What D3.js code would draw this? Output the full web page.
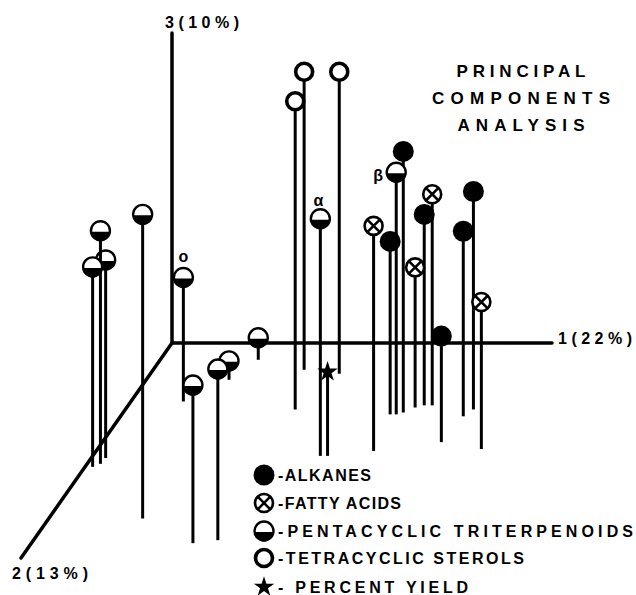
<!DOCTYPE html>
<html>
<head>
<meta charset="utf-8">
<script src="https://cdn.jsdelivr.net/npm/d3@7"></script>
<style>
  body { margin: 0; background: #fff; }
  text { font-family: "Liberation Sans", Arial, sans-serif; font-weight: bold; fill: #000; }
</style>
</head>
<body>
<div id="chart"></div>
<script>
// scores on the three principal components: [pc1, pc2, pc3]
const alkanes = [[7.06, 3.32, 5.58], [7.37, 3.23, 8.42], [7.79, 2.90, 6.16],
                 [8.92, 4.61, 3.42], [9.02, 3.41, 5.97], [9.16, 3.09, 7.03]];
const fattyAcids = [[7.30, 5.02, 7.26], [7.59, 3.00, 4.52], [8.00, 2.90, 6.81], [10.1, 4.93, 4.74]];
const triterpenoids = [[0.35, 5.62, 7.52], [0.20, 5.76, 6.45], [0.38, 5.35, 6.39], [2.47, 8.16, 9.81],
                       [1.38, 2.72, 4.00], [4.25, 9.31, 5.10], [4.85, 9.17, 5.52], [2.18, 1.71, 0.61],
                       [2.58, 0.78, 0.71], [5.99, 5.25, 7.65], [7.22, 3.32, 7.81]];
const sterols = [[3.97, 1.24, 9.61], [4.97, 1.43, 9.74], [4.47, 3.09, 9.94]];
const percentYield = [[6.18, 5.25, 2.71]];

// labelled triterpenoids (index into triterpenoids)
const pointLabels = [{ i: 4, text: "o", dx: 0, dy: -20 },
                     { i: 9, text: "α", dx: -2, dy: -18 },
                     { i: 10, text: "β", dx: -18, dy: 4 }];

const axisNames = ["1(22%)", "2(13%)", "3(10%)"];
const legendNames = ["-ALKANES", "-FATTY ACIDS", "-PENTACYCLIC TRITERPENOIDS", "-TETRACYCLIC STEROLS", "- PERCENT YIELD"];
const titleLines = ["PRINCIPAL", "COMPONENTS", "ANALYSIS"];

const width = 636, height = 595;
const svg = d3.select("#chart").append("svg").attr("width", width).attr("height", height);

// oblique projection: axis 1 to the right, axis 2 toward the viewer (down-left), axis 3 up
const origin = [172, 343];
const dir2 = [-151, 215];
const s1 = d3.scaleLinear().domain([0, 10]).range([0, 380]);
const s2 = d3.scaleLinear().domain([0, 10]).range([0, 1]);
const s3 = d3.scaleLinear().domain([0, 10]).range([0, 310]);

const project = ([a, b, c]) => [
  origin[0] + s1(a) + s2(b) * dir2[0],
  origin[1] + s2(b) * dir2[1] - s3(c)
];

// axes
const axisEnds = [[10, 0, 0], [0, 10, 0], [0, 0, 10]];
svg.append("g").selectAll("line").data(axisEnds).join("line")
  .attr("x1", origin[0]).attr("y1", origin[1])
  .attr("x2", (d) => project(d)[0]).attr("y2", (d) => project(d)[1])
  .attr("stroke", "#000").attr("stroke-width", 3.5).attr("stroke-linecap", "round");

const axisLabelPos = [{ x: 558, y: 344, len: 74 }, { x: 12, y: 579, len: 76 }, { x: 165, y: 28, len: 74 }];
svg.append("g").selectAll("text").data(axisNames).join("text")
  .attr("x", (d, i) => axisLabelPos[i].x).attr("y", (d, i) => axisLabelPos[i].y)
  .attr("font-size", 16)
  .attr("textLength", (d, i) => axisLabelPos[i].len).attr("lengthAdjust", "spacing")
  .text((d) => d);

// title
svg.append("g").selectAll("text").data(titleLines).join("text")
  .attr("x", 521).attr("y", (d, i) => 77 + i * 27)
  .attr("text-anchor", "middle").attr("font-size", 17)
  .attr("textLength", (d, i) => [129, 178, 127][i]).attr("lengthAdjust", "spacing")
  .text((d) => d);

// markers
function drawMarker(g, type, r) {
  if (type === "alkane") {
    g.append("circle").attr("r", r + 0.5).attr("fill", "#000");
  } else if (type === "fatty") {
    g.append("circle").attr("r", r - 1).attr("fill", "#fff").attr("stroke", "#000").attr("stroke-width", 2.6);
    const k = (r - 1) * 0.7;
    g.append("path").attr("d", `M${-k},${-k}L${k},${k}M${-k},${k}L${k},${-k}`)
      .attr("stroke", "#000").attr("stroke-width", 2.6);
  } else if (type === "penta") {
    g.append("circle").attr("r", r - 0.5).attr("fill", "#fff").attr("stroke", "#000").attr("stroke-width", 2.4);
    const rr = r - 0.5;
    g.append("path").attr("d", `M${-rr},1A${rr},${rr} 0 0 0 ${rr},1Z`).attr("fill", "#000");
  } else if (type === "sterol") {
    g.append("circle").attr("r", r - 1.5).attr("fill", "#fff").attr("stroke", "#000").attr("stroke-width", 3.6);
  } else {
    g.append("path").attr("d", d3.symbol(d3.symbolStar, 130)()).attr("fill", "#000");
  }
}

const points = [
  ...alkanes.map((p) => ({ p, type: "alkane" })),
  ...fattyAcids.map((p) => ({ p, type: "fatty" })),
  ...triterpenoids.map((p) => ({ p, type: "penta" })),
  ...sterols.map((p) => ({ p, type: "sterol" })),
  ...percentYield.map((p) => ({ p, type: "yield" }))
].sort((a, b) => a.p[1] - b.p[1]);

const ptLayer = svg.append("g");
points.forEach((d) => {
  const base = project([d.p[0], d.p[1], 0]);
  const top = project(d.p);
  ptLayer.append("line")
    .attr("x1", base[0]).attr("y1", base[1]).attr("x2", top[0]).attr("y2", top[1])
    .attr("stroke", "#000").attr("stroke-width", 3);
  const g = ptLayer.append("g").attr("transform", `translate(${top[0]},${top[1]})`);
  drawMarker(g, d.type, 10);
});

svg.append("g").selectAll("text").data(pointLabels).join("text")
  .attr("x", (d) => project(triterpenoids[d.i])[0] + d.dx)
  .attr("y", (d) => project(triterpenoids[d.i])[1] + d.dy + 5)
  .attr("text-anchor", "middle").attr("font-size", 16)
  .text((d) => d.text);

// legend
const legendTypes = ["alkane", "fatty", "penta", "sterol", "yield"];
const legendRowY = [475, 503, 531, 558, 587];
const legendLen = [93, 123, 355, 246, 190];
const legend = svg.append("g");
legendNames.forEach((name, i) => {
  const g = legend.append("g").attr("transform", `translate(264,${legendRowY[i]})`);
  drawMarker(g, legendTypes[i], 10);
  legend.append("text").attr("x", 278).attr("y", legendRowY[i] + 6)
    .attr("font-size", 16)
    .attr("textLength", legendLen[i]).attr("lengthAdjust", "spacing")
    .text(name);
});
</script>
</body>
</html>
